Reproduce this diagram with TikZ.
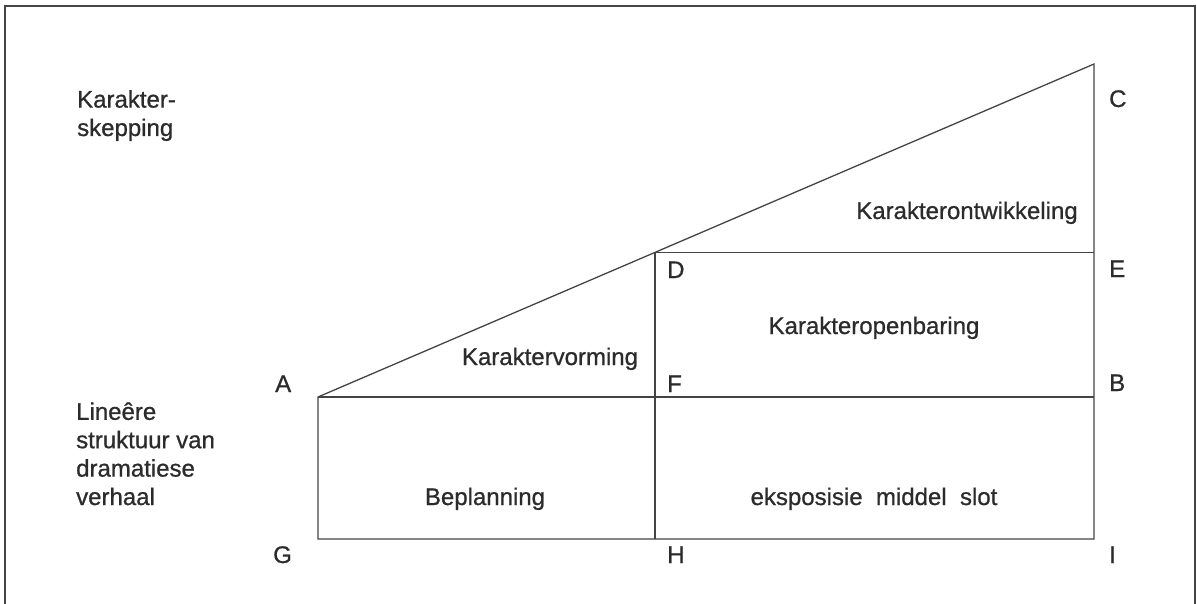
\documentclass[tikz,border=0pt]{standalone}
\usepackage{fontspec}
\setmainfont{Liberation Sans}[FakeBold=0.8]
\usetikzlibrary{calc}
\definecolor{ink}{HTML}{2B2B2B}
\definecolor{rule}{HTML}{444444}
\begin{document}
\begin{tikzpicture}[x=1pt,y=-1pt,
  txt/.style={font=\fontsize{24}{28.4}\selectfont, text=ink, inner sep=0pt},
  corner/.style={txt, anchor=base west},
  region/.style={txt, anchor=base},
  side/.style={txt, anchor=base west, align=left},
  edge/.style={draw=rule, line width=1.3pt, line join=miter}]
\useasboundingbox (0,0) rectangle (1197,604);

% outer frame, open at the bottom edge of the page
\draw[draw=rule, line width=2pt] (5,630) -- (5,6) -- (1195,6) -- (1195,630);

% key points of the figure
\coordinate (A) at (318,397);
\coordinate (C) at (1094,64);
\coordinate (D) at ($(A)!0.4343!(C)$);
\coordinate (E) at (C |- D);
\coordinate (F) at (D |- A);
\coordinate (B) at (C |- A);
\coordinate (G) at (318,539);
\coordinate (H) at (D |- G);
\coordinate (I) at (C |- G);

% outline and dividers
\draw[edge] (A) -- (C) -- (I) -- (G) -- cycle;
\draw[edge] (A) -- (B);
\draw[edge] (D) -- (E);
\draw[edge] (D) -- (H);

% corner letters
\node[corner] (lA) at (275,392) {A};
\node[corner] (lC) at (1109,107) {C};
\node[corner] (lD) at (667,278) {D};
\node[corner] (lE) at (1109,277) {E};
\node[corner] (lF) at (667,392) {F};
\node[corner] (lB) at (1109,391) {B};
\node[corner] (lG) at (273,563) {G};
\node[corner] (lH) at (667,563) {H};
\node[corner] (lI) at (1109,563) {I};

% region names
\node[region] (ontw) at (967,219) {Karakterontwikkeling};
\node[region] (openb) at (874,334) {Karakteropenbaring};
\node[region] (vorm) at (550,365) {Karaktervorming};
\node[region] (bepl) at (485,505) {Beplanning};
\node[region] (eksp) at (874,505) {eksposisie\ \ middel\ \ slot};

% side captions (anchored on the baseline of their last line)
\node[side] (skep) at (77,136) {Karakter-\\skepping};
\node[side] (lin) at (76,505) {Lineêre\\struktuur van\\dramatiese\\verhaal};
\end{tikzpicture}
\end{document}
